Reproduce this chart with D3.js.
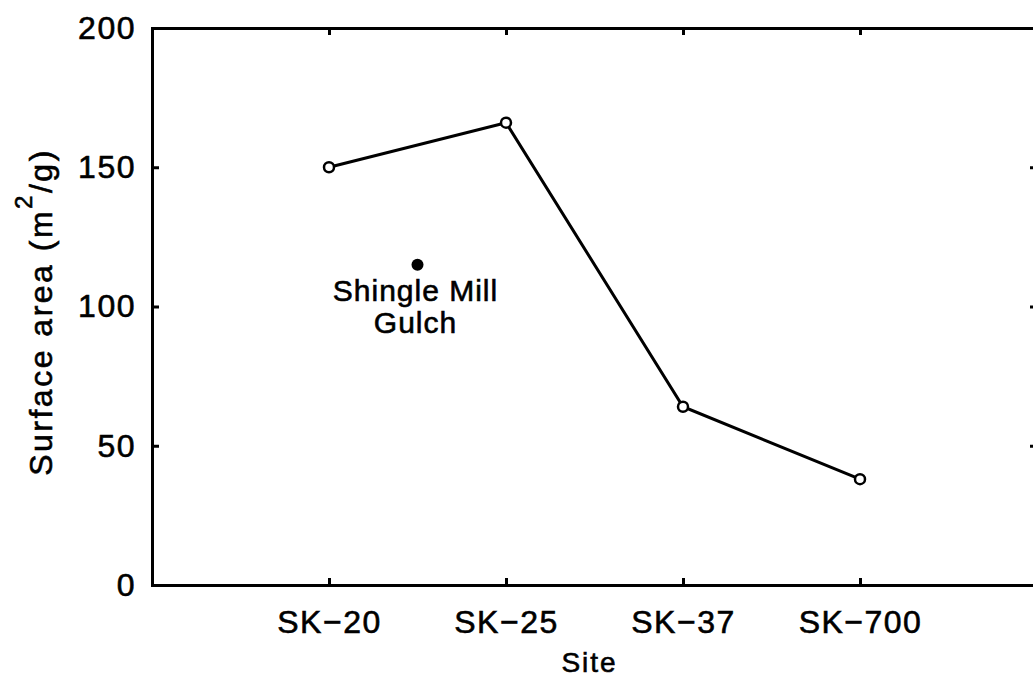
<!DOCTYPE html>
<meta charset="utf-8">
<style>
body { margin: 0; background: #fff; }
svg text { font-family: 'Liberation Sans', Arial, sans-serif; fill: #000; stroke: #000; stroke-width: 0.6px; }
.axis path, .axis line { stroke: #000; stroke-width: 3px; }
.axis text { letter-spacing: 1.5px; }
.line { fill: none; stroke: #000; stroke-width: 3px; }
</style>
<body>
<script src="https://cdnjs.cloudflare.com/ajax/libs/d3/7.8.5/d3.min.js"></script>
<script>
// sites and measured surface area (m2/g)
var sites = ["SK\u221220", "SK\u221225", "SK\u221237", "SK\u2212700"];
var surfaceArea = [150, 166, 64, 38];
var yTicks = [0, 50, 100, 150, 200];
// separate point, sits between SK-20 and SK-25
var extraPoint = {pos: 1.5, value: 115, label: ["Shingle Mill", "Gulch"]};

var W = 1033, H = 677;
var mLeft = 152, mRight = 1037, mTop = 28, mBottom = 585;

var svg = d3.select("body").append("svg")
    .attr("width", W)
    .attr("height", H);

var x = d3.scaleLinear().domain([0, sites.length + 1]).range([mLeft, mRight]),
    y = d3.scaleLinear().domain([0, 200]).range([mBottom, mTop]);

var idx = sites.map(function(d, i) { return i + 1; });

// frame with inward ticks on all sides
svg.append("g")
    .attr("class", "axis")
    .attr("transform", "translate(0," + mBottom + ")")
    .call(d3.axisBottom(x).tickValues(idx).tickSize(-7).tickSizeOuter(0).tickPadding(25)
      .tickFormat(function(d) { return sites[d - 1]; }))
    .selectAll("text")
      .attr("font-size", "32px");

svg.append("g")
    .attr("class", "axis")
    .attr("transform", "translate(0," + mTop + ")")
    .call(d3.axisTop(x).tickValues(idx).tickSize(-7).tickSizeOuter(0).tickFormat(""));

svg.append("g")
    .attr("class", "axis")
    .attr("transform", "translate(" + mLeft + ",0)")
    .call(d3.axisLeft(y).tickValues(yTicks).tickSize(-7).tickSizeOuter(0).tickPadding(16))
    .selectAll("text")
      .attr("font-size", "32px");

svg.append("g")
    .attr("class", "axis")
    .attr("transform", "translate(" + mRight + ",0)")
    .call(d3.axisRight(y).tickValues(yTicks).tickSize(-7).tickSizeOuter(0).tickFormat(""));

svg.selectAll(".axis .domain").attr("stroke-linecap", "square");

var line = d3.line()
    .x(function(d, i) { return x(i + 1); })
    .y(function(d) { return y(d); });

svg.append("path")
    .datum(surfaceArea)
    .attr("class", "line")
    .attr("d", line);

svg.selectAll(".pt")
    .data(surfaceArea)
  .enter().append("circle")
    .attr("class", "pt")
    .attr("cx", function(d, i) { return x(i + 1); })
    .attr("cy", function(d) { return y(d); })
    .attr("r", 5)
    .attr("fill", "#fff")
    .attr("stroke", "#000")
    .attr("stroke-width", 2.5);

svg.append("circle")
    .attr("cx", x(extraPoint.pos))
    .attr("cy", y(extraPoint.value))
    .attr("r", 6)
    .attr("fill", "#000");

svg.append("text")
    .attr("y", y(extraPoint.value) + 36)
    .attr("text-anchor", "middle")
    .attr("font-size", "30px")
    .style("letter-spacing", "1px")
    .selectAll("tspan")
    .data(extraPoint.label)
  .enter().append("tspan")
    .attr("x", x(extraPoint.pos) - 2)
    .attr("dy", function(d, i) { return i ? 32 : 0; })
    .text(function(d) { return d; });

// axis titles
svg.append("text")
    .attr("x", (mLeft + mRight) / 2 - 5)
    .attr("y", 672)
    .attr("text-anchor", "middle")
    .attr("font-size", "28px")
    .style("letter-spacing", "2px")
    .text("Site");

var yt = svg.append("text")
    .attr("transform", "translate(52," + 312 + ") rotate(-90)")
    .attr("text-anchor", "middle")
    .attr("font-size", "32px")
    .style("letter-spacing", "2.5px");
yt.append("tspan").text("Surface area (m");
yt.append("tspan").attr("dy", -20).attr("font-size", "24px").text("2");
yt.append("tspan").attr("dy", 20).text("/g)");
</script>
</body>
